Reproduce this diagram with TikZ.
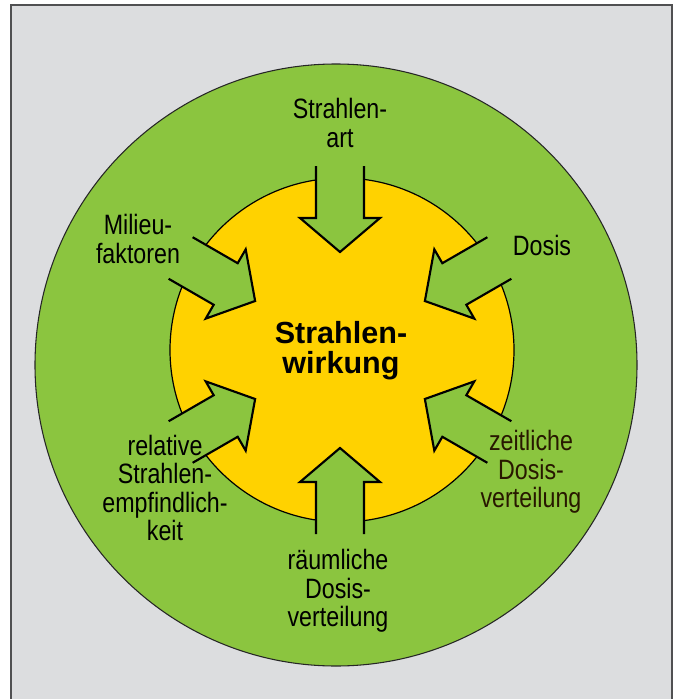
\documentclass[tikz,border=0pt]{standalone}
\usepackage{fontspec}
\setmainfont{Liberation Sans}
\newfontfamily\narrowsans{Liberation Sans}[FakeStretch=0.83]
\definecolor{leafgreen}{RGB}{139,197,63}
\definecolor{sunyellow}{RGB}{255,210,0}
\definecolor{panelgray}{RGB}{220,221,223}
\definecolor{framegray}{RGB}{80,80,82}
\definecolor{brownblack}{RGB}{40,24,0}
\newcommand\radarrow[1]{%
  \begin{scope}[shift={(340,350)}, rotate=#1]
    \fill[leafgreen] (184,24) -- (132,24) -- (132,40) -- (98,0) -- (132,-40) -- (132,-24) -- (184,-24) -- cycle;
    \draw[arrowline] (184,24) -- (132,24) -- (132,40) -- (98,0) -- (132,-40) -- (132,-24) -- (184,-24);
  \end{scope}}
\begin{document}
\begin{tikzpicture}[x=0.75pt,y=-0.75pt,
  lbl/.style={font=\narrowsans\fontsize{21}{21.4}\selectfont, align=center, inner sep=0pt, text=black},
  title/.style={font=\bfseries\fontsize{22.9}{22.5}\selectfont, align=center, inner sep=0pt, text=black},
  arrowline/.style={draw=black, line width=1.6pt, line join=miter, miter limit=10}]
\useasboundingbox (0,0) rectangle (674,699);
\fill[white] (0,0) rectangle (674,699);
\draw[fill=panelgray, draw=framegray, line width=1.5pt] (11,5) rectangle (672,720);
\draw[fill=leafgreen, draw=black!85, line width=0.8pt] (336,365) circle (301);
\draw[fill=sunyellow, draw=black, line width=0.9pt] (342,350) circle (172);
\radarrow{90}
\radarrow{30}
\radarrow{150}
\radarrow{210}
\radarrow{270}
\radarrow{330}
\node[lbl] (art) at (340,123) {Strahlen-\\art};
\node[lbl] (milieu) at (138,239) {Milieu-\\faktoren};
\node[lbl] (dosis) at (542,245) {Dosis};
\node[lbl] (rel) at (165,488) {relative\\Strahlen-\\empfindlich-\\keit};
\node[lbl] (raum) at (338,591) {räumliche\\Dosis-\\verteilung};
\node[lbl, text=brownblack] (zeit) at (531,472) {zeitliche\\Dosis-\\verteilung};
\node[title] (wirkung) at (341,351) {Strahlen-\\wirkung};
\end{tikzpicture}
\end{document}
